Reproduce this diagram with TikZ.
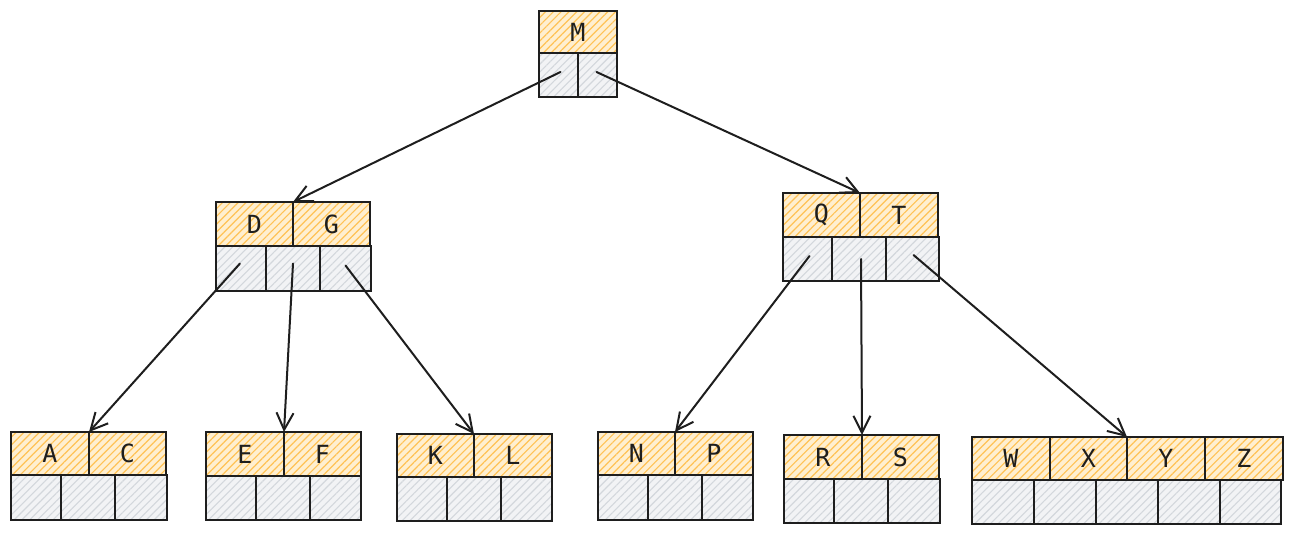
\documentclass[tikz,border=0pt]{standalone}
\usepackage{fontspec}
\setmonofont{DejaVu Sans Mono}
\usetikzlibrary{arrows.meta,patterns.meta}
\definecolor{keybase}{HTML}{FFEFD0}
\definecolor{keyhatch}{HTML}{FFC255}
\definecolor{ptrbase}{HTML}{F2F3F5}
\definecolor{ptrhatch}{HTML}{D3D7DC}
\definecolor{ink}{HTML}{1E1E1E}
\tikzset{
  cellbase/.style={draw=ink, line width=1.8pt, inner sep=0pt, outer sep=0pt,
    font=\ttfamily\fontsize{25}{28}\selectfont, text=ink},
  keycell/.style={cellbase, preaction={fill=keybase, draw=none},
    preaction={draw=none, pattern={Lines[angle=45,distance=5.5pt,line width=1.2pt]}, pattern color=keyhatch}},
  ptrcell/.style={cellbase, preaction={fill=ptrbase, draw=none},
    preaction={draw=none, pattern={Lines[angle=45,distance=5.5pt,line width=1.1pt]}, pattern color=ptrhatch}},
  link/.style={draw=ink, line width=2pt, line cap=round, -{Straight Barb[length=17pt,width=17pt,line width=2pt]}},
}
\newcommand\cellbox[7]{\node[#1, minimum width={(#4)-(#2)}, minimum height={(#5)-(#3)}] (#6) at ({((#2)+(#4))/2},{((#3)+(#5))/2}) {#7};}
\begin{document}
\begin{tikzpicture}[x=1pt,y=-1pt]
\useasboundingbox[fill=white] (0,0) rectangle (1292,534);
% root M
\cellbox{keycell}{539}{11}{617}{53}{M}{M}
\cellbox{ptrcell}{539}{53}{578}{97}{Mp1}{}
\cellbox{ptrcell}{578}{53}{617}{97}{Mp2}{}
% DG
\cellbox{keycell}{216}{202}{293}{246}{D}{D}
\cellbox{keycell}{293}{202}{370}{246}{G}{G}
\cellbox{ptrcell}{216}{246}{266}{291}{DGp1}{}
\cellbox{ptrcell}{266}{246}{320}{291}{DGp2}{}
\cellbox{ptrcell}{320}{246}{371}{291}{DGp3}{}
% QT
\cellbox{keycell}{783}{193}{860}{237}{Q}{Q}
\cellbox{keycell}{860}{193}{938}{237}{T}{T}
\cellbox{ptrcell}{783}{237}{832}{281}{QTp1}{}
\cellbox{ptrcell}{832}{237}{886}{281}{QTp2}{}
\cellbox{ptrcell}{886}{237}{939}{281}{QTp3}{}
% AC
\cellbox{keycell}{11}{432}{89}{475}{A}{A}
\cellbox{keycell}{89}{432}{166}{475}{C}{C}
\cellbox{ptrcell}{11}{475}{61}{520}{ACp1}{}
\cellbox{ptrcell}{61}{475}{115}{520}{ACp2}{}
\cellbox{ptrcell}{115}{475}{167}{520}{ACp3}{}
% EF
\cellbox{keycell}{206}{432}{284}{476}{E}{E}
\cellbox{keycell}{284}{432}{361}{476}{F}{F}
\cellbox{ptrcell}{206}{476}{256}{520}{EFp1}{}
\cellbox{ptrcell}{256}{476}{310}{520}{EFp2}{}
\cellbox{ptrcell}{310}{476}{361}{520}{EFp3}{}
% KL
\cellbox{keycell}{397}{434}{474}{477}{K}{K}
\cellbox{keycell}{474}{434}{552}{477}{L}{L}
\cellbox{ptrcell}{397}{477}{447}{521}{KLp1}{}
\cellbox{ptrcell}{447}{477}{501}{521}{KLp2}{}
\cellbox{ptrcell}{501}{477}{552}{521}{KLp3}{}
% NP
\cellbox{keycell}{598}{432}{675}{475}{N}{N}
\cellbox{keycell}{675}{432}{753}{475}{P}{P}
\cellbox{ptrcell}{598}{475}{648}{520}{NPp1}{}
\cellbox{ptrcell}{648}{475}{702}{520}{NPp2}{}
\cellbox{ptrcell}{702}{475}{753}{520}{NPp3}{}
% RS
\cellbox{keycell}{784}{435}{862}{479}{R}{R}
\cellbox{keycell}{862}{435}{939}{479}{S}{S}
\cellbox{ptrcell}{784}{479}{834}{523}{RSp1}{}
\cellbox{ptrcell}{834}{479}{888}{523}{RSp2}{}
\cellbox{ptrcell}{888}{479}{940}{523}{RSp3}{}
% WXYZ
\cellbox{keycell}{972}{437}{1050}{480}{W}{W}
\cellbox{keycell}{1050}{437}{1127}{480}{X}{X}
\cellbox{keycell}{1127}{437}{1205}{480}{Y}{Y}
\cellbox{keycell}{1205}{437}{1283}{480}{Z}{Z}
\cellbox{ptrcell}{972}{480}{1034}{524}{Wp1}{}
\cellbox{ptrcell}{1034}{480}{1096}{524}{Wp2}{}
\cellbox{ptrcell}{1096}{480}{1158}{524}{Wp3}{}
\cellbox{ptrcell}{1158}{480}{1220}{524}{Wp4}{}
\cellbox{ptrcell}{1220}{480}{1281}{524}{Wp5}{}
% links
\draw[link] ([shift={(2,-3)}]Mp1.center) -- (D.north east);
\draw[link] ([shift={(-1,-3)}]Mp2.center) -- (Q.north east);
\draw[link] ([shift={(-1,-5)}]DGp1.center) -- (A.north east);
\draw[link] ([shift={(0,-5)}]DGp2.center) -- (E.north east);
\draw[link] ([shift={(0,-3)}]DGp3.center) -- (K.north east);
\draw[link] ([shift={(2,-3)}]QTp1.center) -- (N.north east);
\draw[link] ([shift={(2,0)}]QTp2.center) -- (R.north east);
\draw[link] ([shift={(1,-4)}]QTp3.center) -- (X.north east);
\end{tikzpicture}
\end{document}
